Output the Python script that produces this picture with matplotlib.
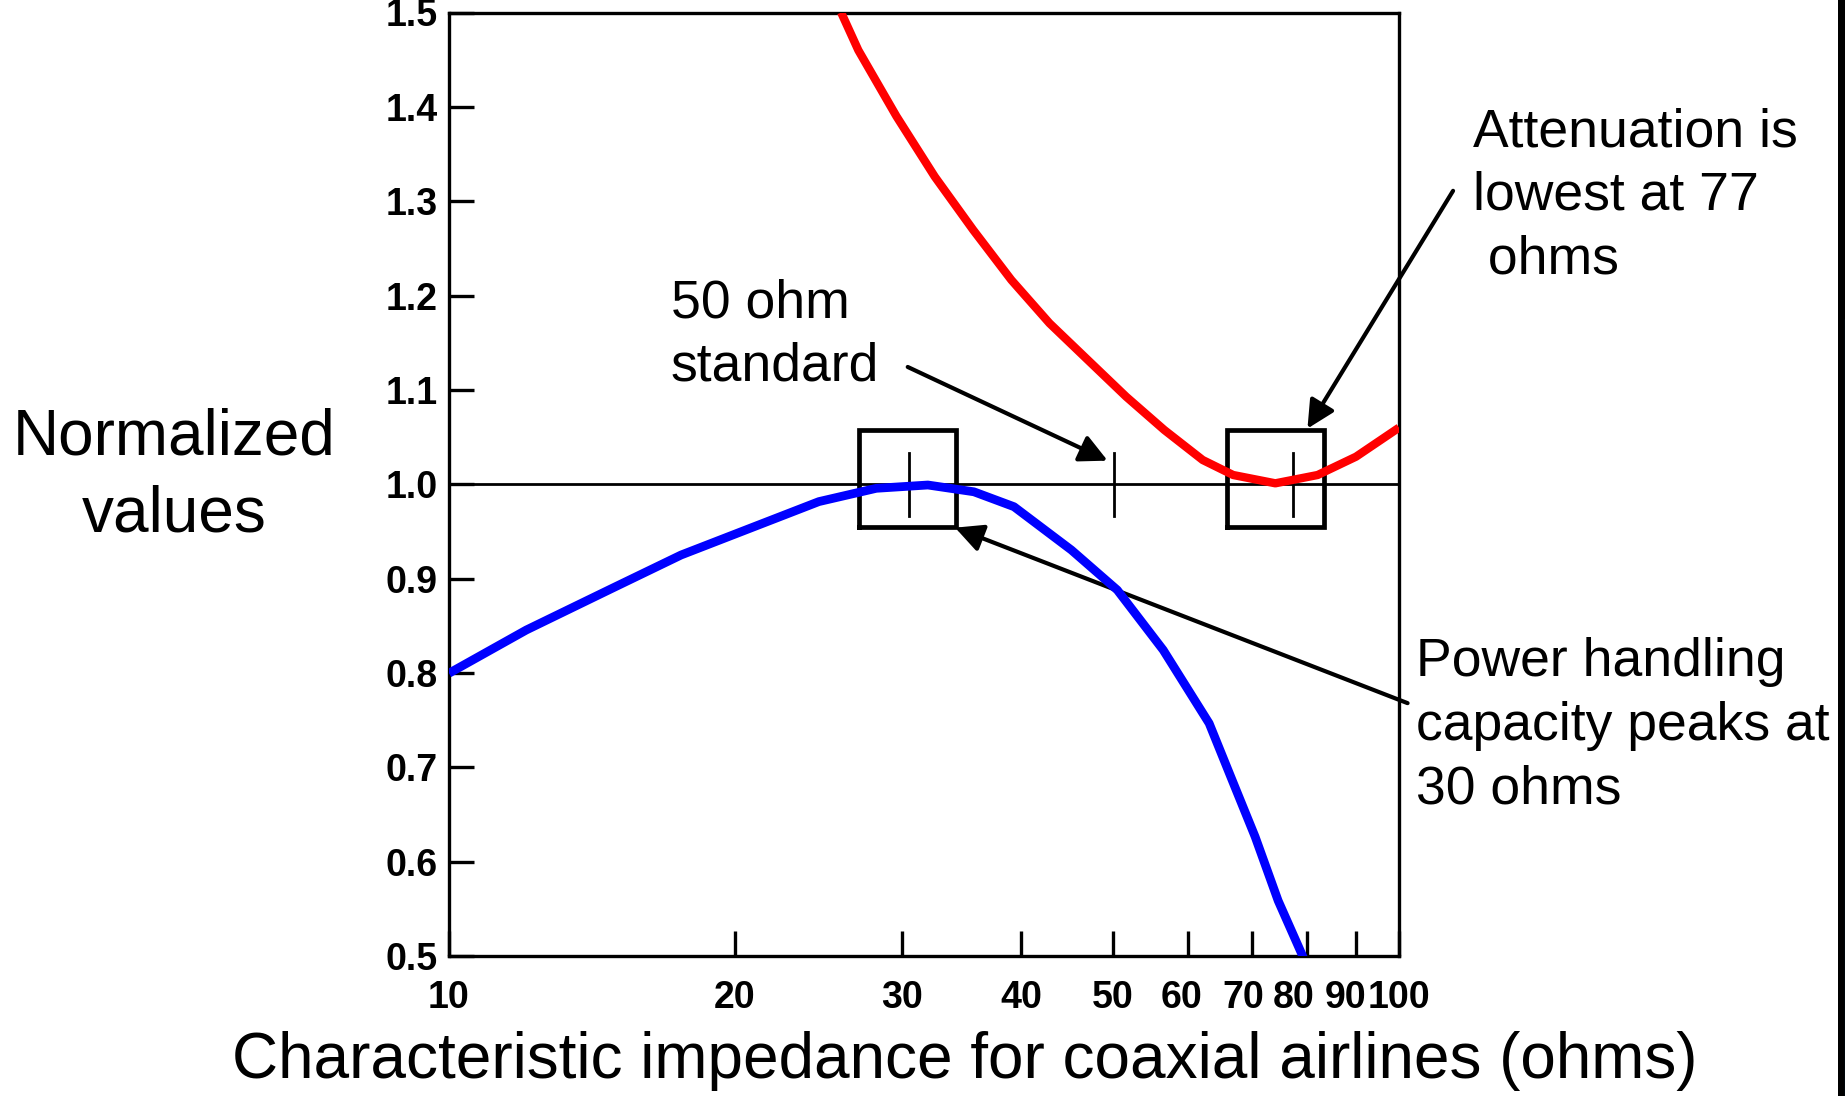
import matplotlib.pyplot as plt
import matplotlib.transforms as mtransforms
from matplotlib.patches import Rectangle
from matplotlib.lines import Line2D

plt.rcParams['font.family'] = ['Liberation Sans', 'DejaVu Sans']

# attenuation (red) and power handling (blue)
atten_x = [25.87, 26.97, 29.58, 32.46, 35.63, 39.08, 42.87, 47.04, 51.62, 56.62,
           62.14, 66.9, 74.1, 82.1, 90.1, 100]
atten_y = [1.5, 1.460, 1.390, 1.326, 1.2695, 1.2165, 1.1706, 1.1317, 1.0928, 1.0575,
           1.0257, 1.0098, 1.001, 1.0098, 1.0292, 1.060]

power_x = [10, 12.06, 14.85, 17.55, 20.74, 24.51, 28.17, 31.92, 35.69, 39.33, 45.2,
           50.52, 56.47, 63.12, 66.73, 70.56, 74.61, 79.43]
power_y = [0.7997, 0.8455, 0.8897, 0.925, 0.9533, 0.9816, 0.9957, 0.9992, 0.992, 0.9762,
           0.9303, 0.8879, 0.8243, 0.7466, 0.6865, 0.6264, 0.5586, 0.4968]

# marker boxes (x0, x1, y0, y1) and short vertical marks
boxes = [(27.0, 34.2, 0.955, 1.058), (65.9, 83.3, 0.955, 1.058)]
marks = [30.5, 50.1, 77.4]

xticks = [10, 20, 30, 40, 50, 60, 70, 80, 90, 100]
yticks = [0.5, 0.6, 0.7, 0.8, 0.9, 1.0, 1.1, 1.2, 1.3, 1.4, 1.5]

W, H = 1845, 1096
fig = plt.figure(figsize=(W / 100, H / 100), dpi=100)
ax = fig.add_axes([449 / W, 140 / H, 950 / W, 943.5 / H])

ax.set_xscale('log')
ax.set_xlim(10, 100)
ax.set_ylim(0.5, 1.5)

ax.axhline(1.0, color='black', lw=2.0, zorder=2)

for x0, x1, y0, y1 in boxes:
    ax.plot([x0, x1, x1, x0, x0], [y0, y0, y1, y1, y0], color='black', lw=3.4,
            solid_joinstyle='miter', zorder=3)
for m in marks:
    ax.plot([m, m], [0.966, 1.033], color='black', lw=2.0, zorder=3)

ax.plot(atten_x, atten_y, color='#ff0000', lw=6, solid_joinstyle='round',
        solid_capstyle='butt', zorder=4)
ax.plot(power_x, power_y, color='#0000ff', lw=6.3, solid_joinstyle='round',
        solid_capstyle='butt', zorder=4)

# ticks
ax.xaxis.set_minor_locator(plt.NullLocator())
ax.set_xticks(xticks)
ax.set_xticklabels([str(t) for t in xticks])
ax.set_yticks(yticks)
ax.set_yticklabels(['%.1f' % t for t in yticks])
ax.tick_params(axis='both', direction='in', length=18, width=2.4, labelsize=27)
ax.tick_params(axis='x', pad=17)
ax.tick_params(axis='y', pad=8)
for lab in ax.get_xticklabels() + ax.get_yticklabels():
    lab.set_fontweight('bold')
# on the original the 60-90 labels sit a little left of their ticks
nudge = {5: -7, 6: -9, 7: -13, 8: -10}
xlabs = ax.get_xticklabels()
for i, dx in nudge.items():
    off = mtransforms.ScaledTranslation(dx / 100, 0, fig.dpi_scale_trans)
    xlabs[i].set_transform(xlabs[i].get_transform() + off)
for s in ax.spines.values():
    s.set_linewidth(2.4)

# arrows
arrow = dict(arrowstyle='-|>', mutation_scale=42, lw=3, color='black',
             shrinkA=0, shrinkB=0)
ax.annotate('', xy=(49.35, 1.025), xytext=(30.4, 1.1243), arrowprops=arrow,
            annotation_clip=False)
ax.annotate('', xy=(80.1, 1.059), xytext=(114, 1.311), arrowprops=arrow,
            annotation_clip=False)
ax.annotate('', xy=(34.1, 0.954), xytext=(102.1, 0.768), arrowprops=arrow,
            annotation_clip=False)

# labels
fig.text(174 / W, 1 - 476 / H, 'Normalized\nvalues', fontsize=46, ha='center',
         va='center', multialignment='center', linespacing=1.35)
fig.text(965 / W, 1 - 1061 / H, 'Characteristic impedance for coaxial airlines (ohms)',
         fontsize=46, ha='center', va='center')
fig.text(671 / W, 1 - 335 / H, '50 ohm\nstandard', fontsize=38.5, ha='left',
         va='center', linespacing=1.35)
fig.text(1473 / W, 1 - 196 / H, 'Attenuation is\nlowest at 77\n ohms', fontsize=38.5,
         ha='left', va='center', linespacing=1.35)
fig.text(1416 / W, 1 - 726 / H, 'Power handling\ncapacity peaks at\n30 ohms', fontsize=38.5,
         ha='left', va='center', linespacing=1.35)

# slide border at the right edge
fig.add_artist(Rectangle((1838 / W, 0), 7 / W, 1, transform=fig.transFigure,
                         color='black', lw=0))
fig.add_artist(Line2D([1844.5 / W, 1844.5 / W], [0, 1 - 319 / H], transform=fig.transFigure,
                      color='#0077c0', lw=0.8))

fig.savefig('out.png', dpi=100)
